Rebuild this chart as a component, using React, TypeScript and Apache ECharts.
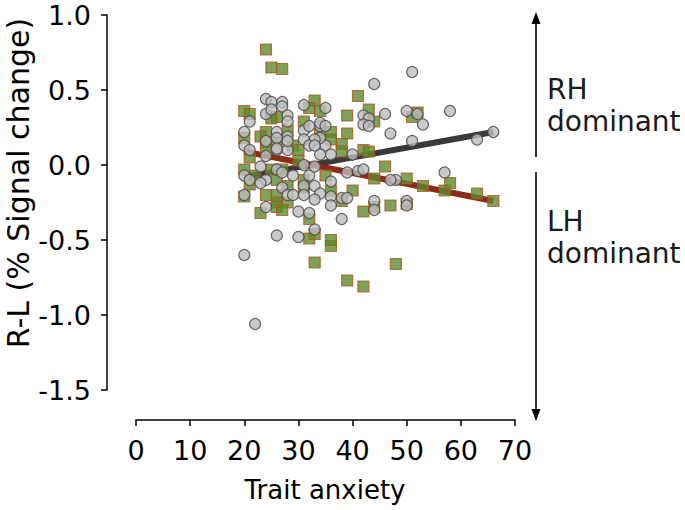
import React, { useEffect, useRef } from "react";
import * as echarts from "echarts";

// Gray circles: [trait anxiety, R-L % signal change]
const grayPoints: [number, number][] = [
  [20, -0.6], [22, -1.06], [26, -0.47], [30, -0.48], [51, 0.62], [44, 0.54],
  [35, 0.38], [42, 0.33], [43, 0.31], [42, 0.27], [43, 0.26], [46, 0.34],
  [50, 0.36], [52, 0.34], [53, 0.27], [58, 0.36], [47, 0.21], [51, 0.16],
  [63, 0.17], [66, 0.22], [34, 0.26], [35, 0.13], [36, 0.07], [40, 0.07],
  [34, 0.18], [39, -0.05], [41, -0.04], [42, -0.03], [48, -0.1], [57, -0.05],
  [36, -0.11], [36, -0.21], [36, -0.27], [38, -0.22], [39, -0.22], [44, -0.24],
  [44, -0.3], [50, -0.24], [50, -0.27], [24, 0.44], [25, 0.42], [27, 0.42],
  [27, 0.39], [31, 0.4], [24, 0.34], [25, 0.37], [21, 0.29], [28, 0.33],
  [28, 0.29], [31, 0.23], [32, 0.26], [34, 0.28], [20, 0.22], [26, 0.22],
  [28, 0.19], [33, 0.17], [31, 0.17], [20, 0.13], [21, 0.1], [24, 0.06],
  [26, 0.1], [28, 0.1], [32, 0.13], [34, 0.07], [23, -0.01], [20, -0.07],
  [21, -0.1], [24, -0.1], [23, -0.12], [26, -0.03], [27, -0.05], [29, -0.07],
  [32, -0.07], [33, -0.01], [31, -0.14], [33, -0.14], [34, -0.19], [27, -0.15],
  [28, -0.2], [29, -0.2], [31, -0.2], [33, -0.23], [20, -0.2], [24, -0.28],
  [30, -0.31], [32, -0.32], [33, -0.43], [35, 0.26], [26, 0.18], [24, 0.16],
  [28, 0.16], [26, 0.11], [33, 0.13], [31, 0.0], [38, -0.36], [47, -0.1],
];

// Green squares
const greenPoints: [number, number][] = [
  [24, 0.77], [25, 0.65], [27, 0.64], [20, 0.36], [21, 0.34], [33, 0.43],
  [32, 0.38], [34, 0.36], [31, 0.29], [26, 0.32], [25, 0.31], [28, 0.23],
  [24, 0.22], [36, 0.22], [23, 0.19], [34, 0.2], [32, -0.49], [36, -0.54],
  [33, -0.65], [39, -0.77], [42, -0.81], [48, -0.66], [41, 0.46], [43, 0.37],
  [39, 0.33], [44, 0.29], [52, 0.35], [51, 0.32], [39, 0.21], [36, 0.17],
  [38, 0.14], [38, 0.09], [42, 0.1], [43, 0.09], [46, -0.01], [44, -0.09],
  [50, -0.09], [53, -0.14], [57, -0.17], [58, -0.12], [63, -0.19], [66, -0.24],
  [40, -0.17], [36, -0.17], [47, -0.27], [50, -0.26], [42, -0.31], [44, -0.28],
  [20, 0.18], [24, 0.15], [24, 0.11], [26, 0.15], [29, 0.13], [21, 0.05],
  [30, 0.03], [25, -0.03], [27, -0.03], [20, -0.03], [21, -0.13], [22, -0.07],
  [26, -0.1], [28, -0.14], [31, -0.1], [31, -0.15], [35, -0.07], [24, -0.2],
  [26, -0.2], [26, -0.25], [28, -0.25], [23, -0.32], [26, -0.28], [27, -0.3],
  [32, -0.36], [33, -0.46], [36, -0.5], [20, -0.21], [30, 0.1], [38, -0.24],
];

// Regression lines
const grayFit: [number, number][] = [[20, -0.08], [66, 0.22]];
const redFit: [number, number][] = [[20, 0.09], [66, -0.24]];

const xTicks = { min: 0, max: 70, interval: 10 };
const yTicks = { min: -1.5, max: 1.0, interval: 0.5 };

const xTitle = "Trait anxiety";
const yTitle = "R-L (% Signal change)";
const rhLabel = ["RH", "dominant"];
const lhLabel = ["LH", "dominant"];

const FONT = "'DejaVu Sans', 'Liberation Sans', Arial, sans-serif";

export default function App() {
  const ref = useRef<HTMLDivElement>(null);
  useEffect(() => {
    document.body.style.margin = "0";
    if (!ref.current) return;
    const chart = echarts.init(ref.current, null, { renderer: "svg" });
    const ax = 536;
    const note = (text: string, y: number) => ({
      type: "text",
      x: 547,
      y,
      style: { text, fontSize: 28, fontFamily: FONT, fill: "#1a1a1a", textAlign: "left", textVerticalAlign: "middle" },
    });
    chart.setOption({
      animation: false,
      backgroundColor: "#ffffff",
      grid: { left: 136, right: 170, top: 15, bottom: 120, containLabel: false },
      xAxis: {
        type: "value",
        min: xTicks.min,
        max: xTicks.max,
        interval: xTicks.interval,
        offset: 30,
        splitLine: { show: false },
        axisLine: { show: true, onZero: false, lineStyle: { color: "#000", width: 1.5 } },
        axisTick: { show: true, length: 6, lineStyle: { color: "#000", width: 1.5 } },
        axisLabel: { color: "#000", fontSize: 27, fontFamily: FONT, margin: 17 },
      },
      yAxis: {
        type: "value",
        min: yTicks.min,
        max: yTicks.max,
        interval: yTicks.interval,
        offset: 29,
        splitLine: { show: false },
        axisLine: { show: true, onZero: false, lineStyle: { color: "#000", width: 1.5 } },
        axisTick: { show: true, length: 6, lineStyle: { color: "#000", width: 1.5 } },
        axisLabel: {
          color: "#000",
          fontSize: 27,
          lineHeight: 22,
          fontFamily: FONT,
          margin: 16,
          formatter: (v: number) => v.toFixed(1),
        },
      },
      series: [
        {
          type: "line",
          data: grayFit,
          showSymbol: false,
          lineStyle: { color: "#3a3a3a", width: 6 },
          z: 1,
          silent: true,
        },
        {
          type: "line",
          data: redFit,
          showSymbol: false,
          lineStyle: { color: "#8e2a18", width: 6 },
          z: 1,
          silent: true,
        },
        {
          type: "scatter",
          data: greenPoints,
          symbol: "rect",
          symbolSize: 11,
          itemStyle: { color: "#5c8a2c", borderColor: "#b0551f", borderWidth: 1.2 },
          z: 2,
        },
        {
          type: "scatter",
          data: grayPoints,
          symbol: "circle",
          symbolSize: 11,
          itemStyle: { color: "#bdbdbd", borderColor: "#4a4a4a", borderWidth: 1.2 },
          z: 3,
        },
      ],
      graphic: [
        {
          type: "text",
          x: 18,
          y: 183,
          rotation: Math.PI / 2,
          style: {
            text: yTitle,
            fontSize: 30,
            fontFamily: FONT,
            fill: "#000",
            textAlign: "center",
            textVerticalAlign: "middle",
          },
        },
        {
          type: "text",
          x: 325,
          y: 490,
          style: {
            text: xTitle,
            fontSize: 26,
            fontFamily: FONT,
            fill: "#000",
            textAlign: "center",
            textVerticalAlign: "middle",
          },
        },
        { type: "line", shape: { x1: ax, y1: 20, x2: ax, y2: 157 }, style: { stroke: "#000", lineWidth: 1.6 } },
        { type: "polygon", shape: { points: [[ax, 12], [ax - 4.5, 24], [ax + 4.5, 24]] }, style: { fill: "#000" } },
        { type: "line", shape: { x1: ax, y1: 172, x2: ax, y2: 412 }, style: { stroke: "#000", lineWidth: 1.6 } },
        { type: "polygon", shape: { points: [[ax, 421], [ax - 4.5, 409], [ax + 4.5, 409]] }, style: { fill: "#000" } },
        note(rhLabel[0], 89),
        note(rhLabel[1], 121),
        note(lhLabel[0], 221),
        note(lhLabel[1], 253),
      ],
    });
    return () => chart.dispose();
  }, []);
  return <div ref={ref} style={{ width: 685, height: 510 }} />;
}
